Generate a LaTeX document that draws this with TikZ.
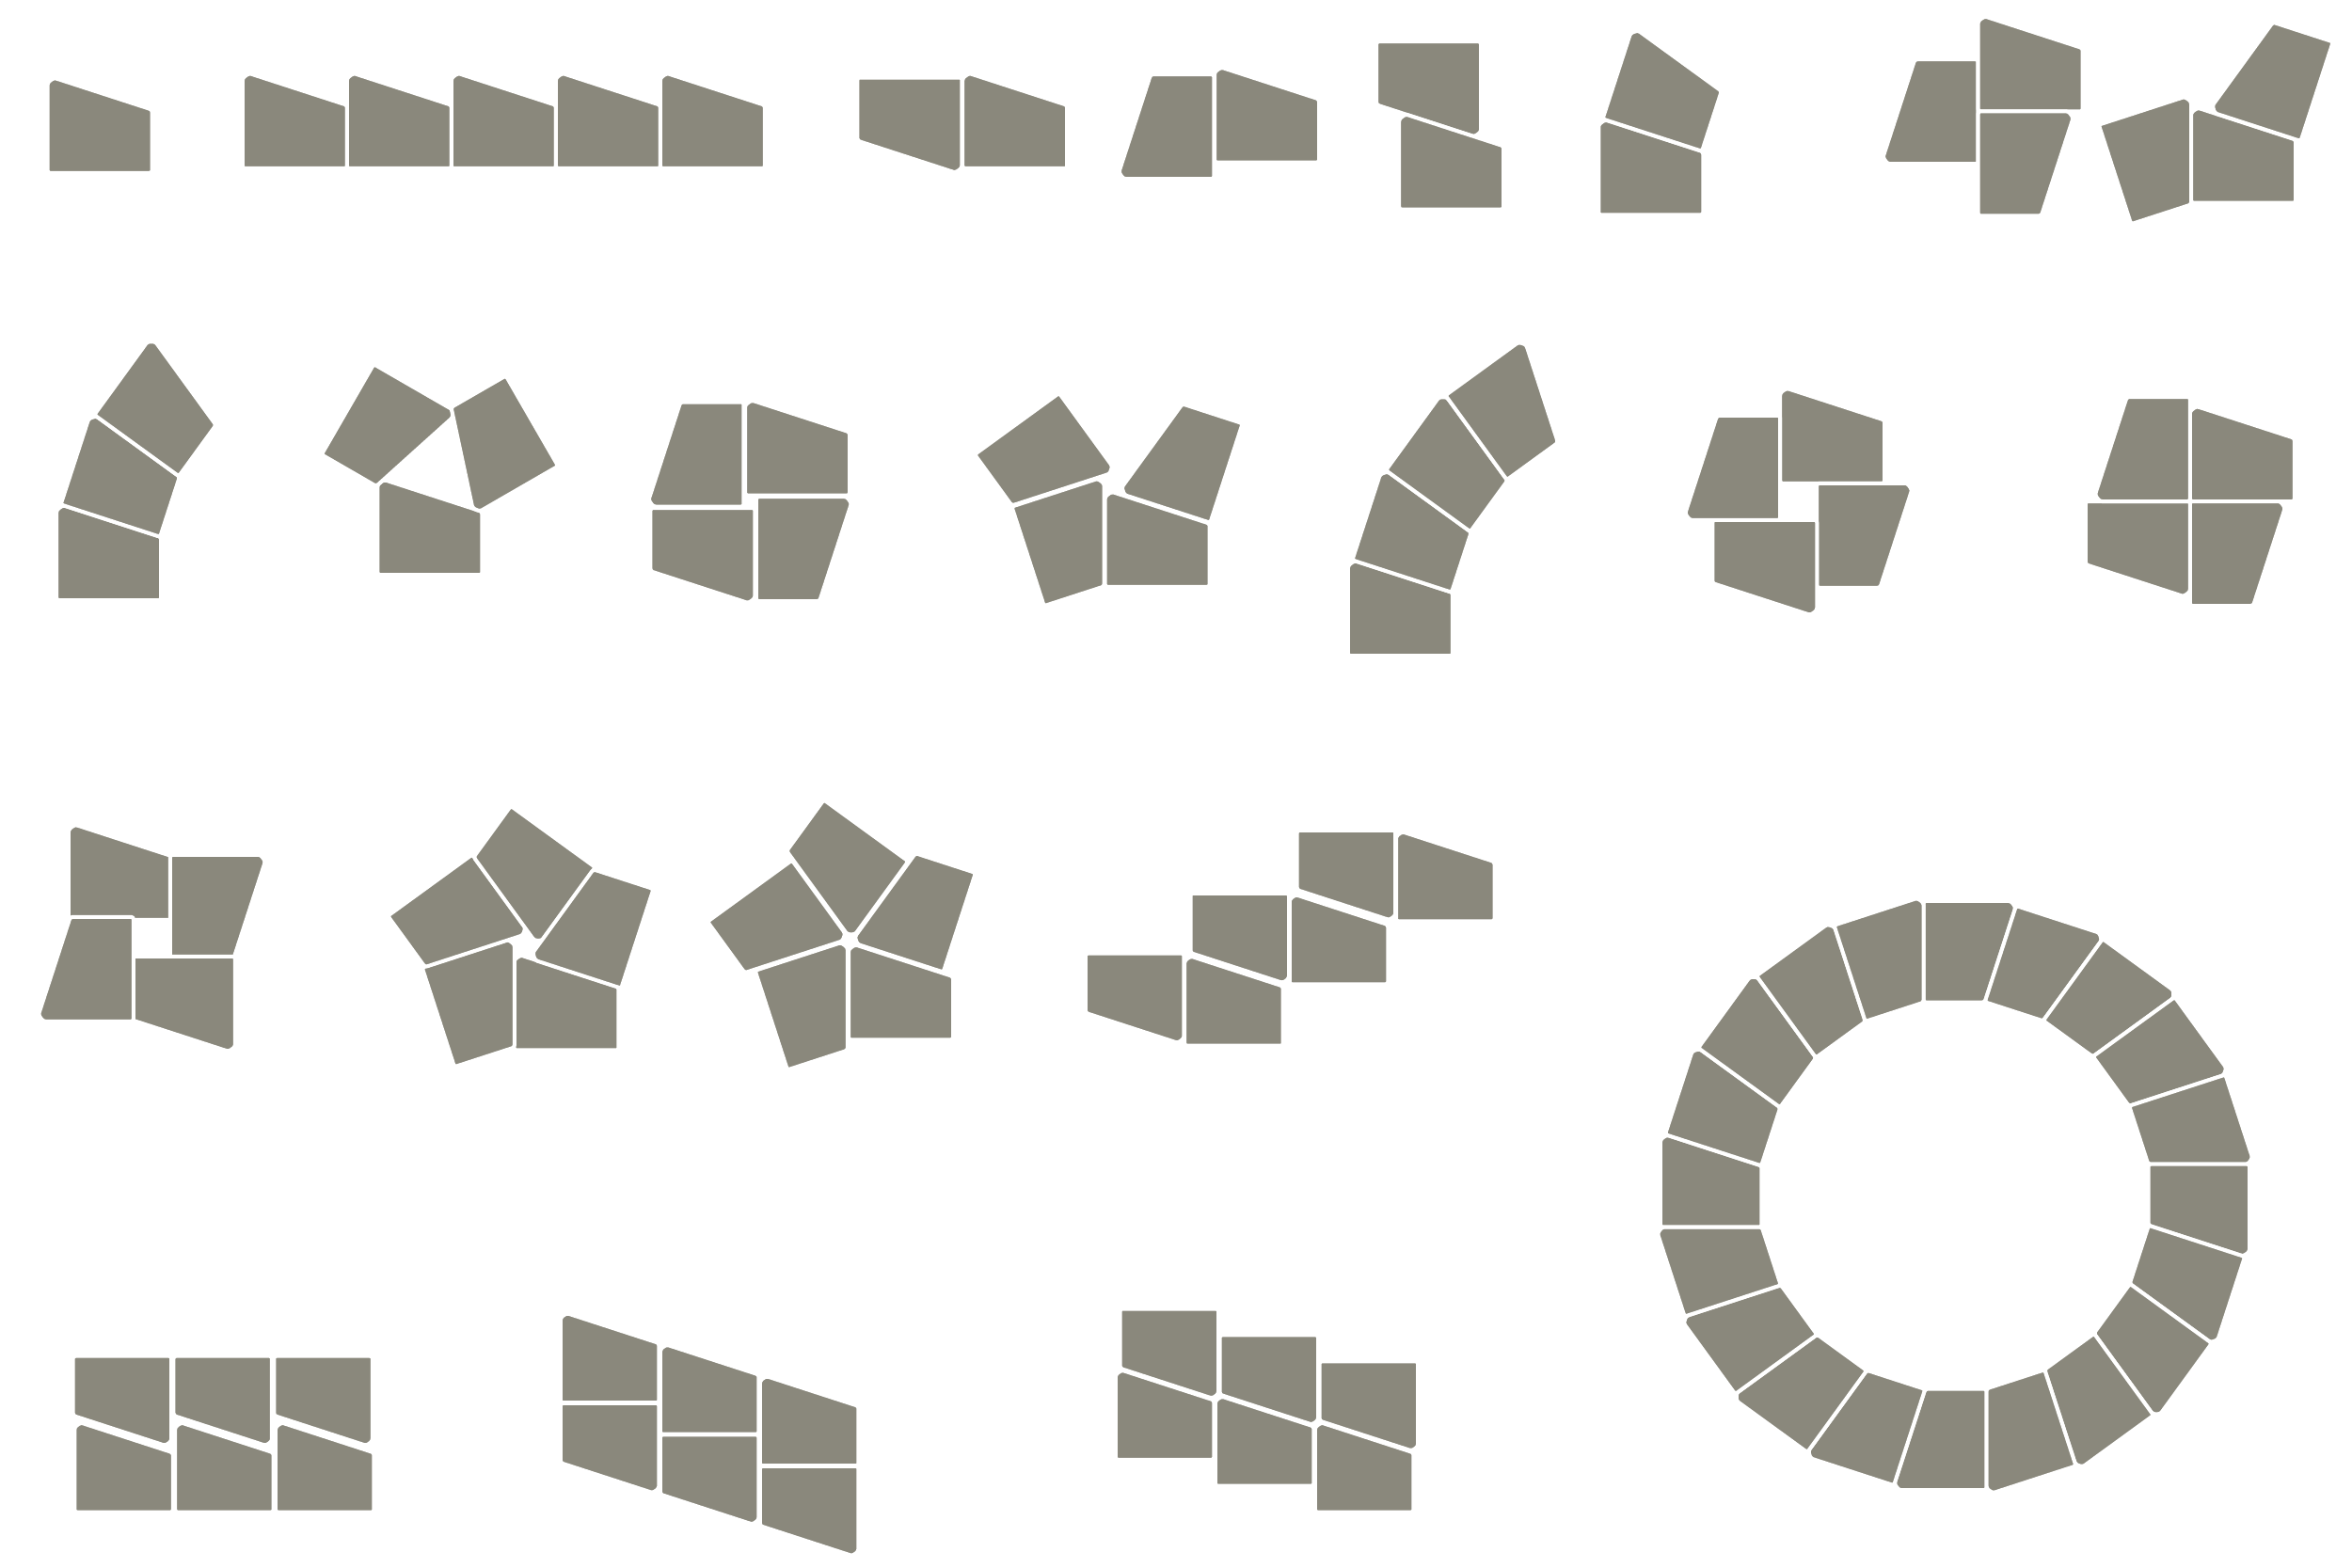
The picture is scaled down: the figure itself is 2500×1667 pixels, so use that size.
\documentclass[tikz,border=0pt]{standalone}
\definecolor{tilegray}{RGB}{138,136,124}
\tikzset{tileshape/.style={fill=tilegray, draw=white, line width=0.4mm, line join=round, rounded corners=0.25mm}}
% tile: visible 90-degree corner P0 (in 1568-wide coordinates), direction theta of the a-side, side s, true size A (px)
\newcommand{\tlS}[5]{%
 \pgfmathsetmacro\tlC{cos(#3)}%
 \pgfmathsetmacro\tlSn{sin(#3)}%
 \pgfmathsetmacro\tlNX{(#4)*(\tlSn)}%
 \pgfmathsetmacro\tlNY{-(#4)*(\tlC)}%
 \pgfmathsetmacro\tlOX{(#1)*1.5944-2*(\tlC)-2*(\tlNX)}%
 \pgfmathsetmacro\tlOY{(#2)*1.5944-2*(\tlSn)-2*(\tlNY)}%
 \pgfmathsetmacro\tlA{#5}%
 \pgfmathsetmacro\tlHa{0.93*(#5)}%
 \pgfmathsetmacro\tlHb{0.60508*(#5)}%
 \pgfmathsetmacro\tlCh{0.065*(#5)}%
 \filldraw[tileshape] (\tlOX,\tlOY)
   -- ({\tlOX+(\tlA)*(\tlC)},{\tlOY+(\tlA)*(\tlSn)})
   -- ({\tlOX+(\tlA)*(\tlC)+(\tlHb)*(\tlNX)},{\tlOY+(\tlA)*(\tlSn)+(\tlHb)*(\tlNY)})
   -- ({\tlOX+(\tlHa)*(\tlNX)+(\tlCh)*(0.95106*(\tlC)-0.30902*(\tlNX))},{\tlOY+(\tlHa)*(\tlNY)+(\tlCh)*(0.95106*(\tlSn)-0.30902*(\tlNY))})
   -- ({\tlOX+(\tlHa-\tlCh)*(\tlNX)},{\tlOY+(\tlHa-\tlCh)*(\tlNY)})
   -- cycle;
}
% rotated copy: centre (cx,cy), base corner (px,py), angle phi, base theta, s, A
\newcommand{\tlR}[8]{%
 \pgfmathsetmacro\rX{(#1)+((#3)-(#1))*cos(#5)-((#4)-(#2))*sin(#5)}%
 \pgfmathsetmacro\rY{(#2)+((#3)-(#1))*sin(#5)+((#4)-(#2))*cos(#5)}%
 \pgfmathsetmacro\rT{(#6)+(#5)}%
 \tlS{\rX}{\rY}{\rT}{#7}{#8}%
}
\begin{document}
\begin{tikzpicture}[x=0.1mm,y=-0.1mm]
\useasboundingbox (0,0) rectangle (2500,1667);
\fill[white] (0,0) rectangle (2500,1667);
% row 1
\tlS{33}{114}{0}{1}{111}
\foreach \k in {0,...,4}{\tlS{163+69.62*\k}{111}{0}{1}{111}}
\tlS{640}{53}{180}{1}{111}
\tlS{643}{111}{0}{1}{111}
\tlS{808}{118}{-90}{1}{111}
\tlS{811}{107}{0}{1}{111}
\tlS{986}{29}{180}{1}{111}
\tlS{934}{138.3}{0}{1}{111}
\tlS{1067}{142}{0}{1}{111}
\tlS{1070}{78.5}{18}{1}{111}
\tlS{1317.4}{108}{-90}{1}{111}
\tlS{1320}{73}{0}{1}{111}
\tlS{1320}{75.5}{90}{1}{111}
\tlS{1400.75}{84}{72}{1}{111}
\tlS{1462}{134}{0}{1}{111}
\tlS{1533}{92.5}{-72}{1}{111}
% row 2
\foreach \k in {0,1,2}{\tlR{240.6}{377.1}{39}{399}{18*\k}{0}{1}{111}}
\foreach \k in {0,1,2}{\tlR{291}{312.3}{253}{382}{120*\k}{0}{1}{111}}
\foreach \k in {0,...,3}{\tlR{500}{334.5}{498}{329}{90*\k}{0}{1}{111}}
\foreach \p in {-72,0,72,144}{\tlR{742.4}{321.7}{738}{390}{\p}{0}{1}{111}}
\foreach \k in {0,...,3}{\tlR{1101.6}{414.1}{900}{436}{18*\k}{0}{1}{111}}
\foreach \k in {0,...,3}{\tlR{1199}{334.5}{1188}{321}{90*\k}{0}{1}{111}}
\foreach \k in {0,...,3}{\tlR{1460}{334.3}{1461.25}{333.05}{90*\k}{0}{1}{111}}
% row 3
\foreach \k in {0,...,3}{\tlR{101.25}{625.5}{47}{612}{90*\k}{0}{1}{111}}
\foreach \k in {0,...,4}{\tlR{350}{630.5}{344}{699}{72*\k}{0}{1}{111}}
\foreach \k in {0,...,4}{\tlR{566.3}{627.3}{567}{692}{72*\k}{0}{1}{111}}
\tlS{788}{637}{180}{1}{104.5}
\tlS{791}{696}{0}{1}{104.5}
\tlS{858}{597}{180}{1}{104.5}
\tlS{861}{655}{0}{1}{104.5}
\tlS{929}{555}{180}{1}{104.5}
\tlS{932}{613}{0}{1}{104.5}
% ring
\foreach \k in {0,...,19}{\tlR{1303.3}{797.2}{1283.6}{602.1}{18*\k}{90}{1}{107.5}}
% row 4
\foreach \k in {0,1,2}{\tlS{113+67*\k}{905.5}{180}{1}{104.5}\tlS{51+67*\k}{1007}{0}{1}{104.5}}
\foreach \k in {0,1,2}{\tlS{375+66.5*\k}{934+21*\k}{0}{1}{104.5}\tlS{438+66.5*\k}{937+21*\k}{180}{1}{104.5}}
\foreach \k in {0,1,2}{\tlS{811+66.5*\k}{874+17.5*\k}{180}{1}{104.5}\tlS{745+66.5*\k}{972+17.5*\k}{0}{1}{104.5}}
\end{tikzpicture}
\end{document}
